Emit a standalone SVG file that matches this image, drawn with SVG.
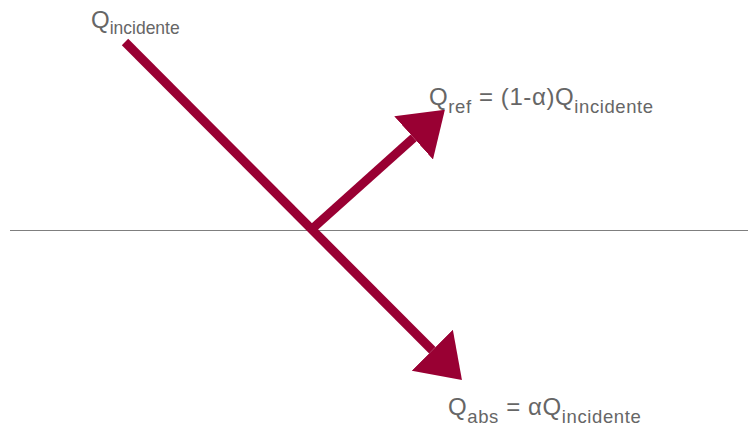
<svg xmlns="http://www.w3.org/2000/svg" width="748" height="428" viewBox="0 0 748 428">
<style>
.lbl{font-family:"Liberation Sans",Arial,sans-serif;font-size:24px;fill:#666666}
.wide{letter-spacing:0.6px}
.sub{font-size:18.5px}
.ray{stroke:#990033;stroke-width:9;fill:none}
</style>
<defs>
<marker id="head" markerUnits="userSpaceOnUse" markerWidth="44" markerHeight="60" refX="0" refY="30" orient="auto" viewBox="0 0 44 60">
<path d="M0,1 L42,30 L0,59 Z" fill="#990033"/>
</marker>
</defs>
<rect width="748" height="428" fill="#ffffff"/>
<g id="surface">
<line x1="10" y1="230.5" x2="748" y2="230.5" stroke="#7f7f7f" stroke-width="1"/>
</g>
<g id="connectors">
<line class="ray" x1="125" y1="42" x2="432.3" y2="350.3" marker-end="url(#head)"/>
<line class="ray" x1="312" y1="229" x2="413.6" y2="137.9" marker-end="url(#head)"/>
</g>
<g id="label-incidente">
<text class="lbl" x="91" y="28">Q<tspan class="sub" dy="6" textLength="70" lengthAdjust="spacingAndGlyphs">incidente</tspan></text>
</g>
<g id="label-ref">
<text class="lbl wide" x="429" y="105">Q<tspan class="sub" dy="8">ref</tspan><tspan dy="-8"> = (1-α)Q</tspan><tspan class="sub" dy="8">incidente</tspan></text>
</g>
<g id="label-abs">
<text class="lbl wide" x="448" y="415">Q<tspan class="sub" dy="8">abs</tspan><tspan dy="-8"> = αQ</tspan><tspan class="sub" dy="8">incidente</tspan></text>
</g>
</svg>
